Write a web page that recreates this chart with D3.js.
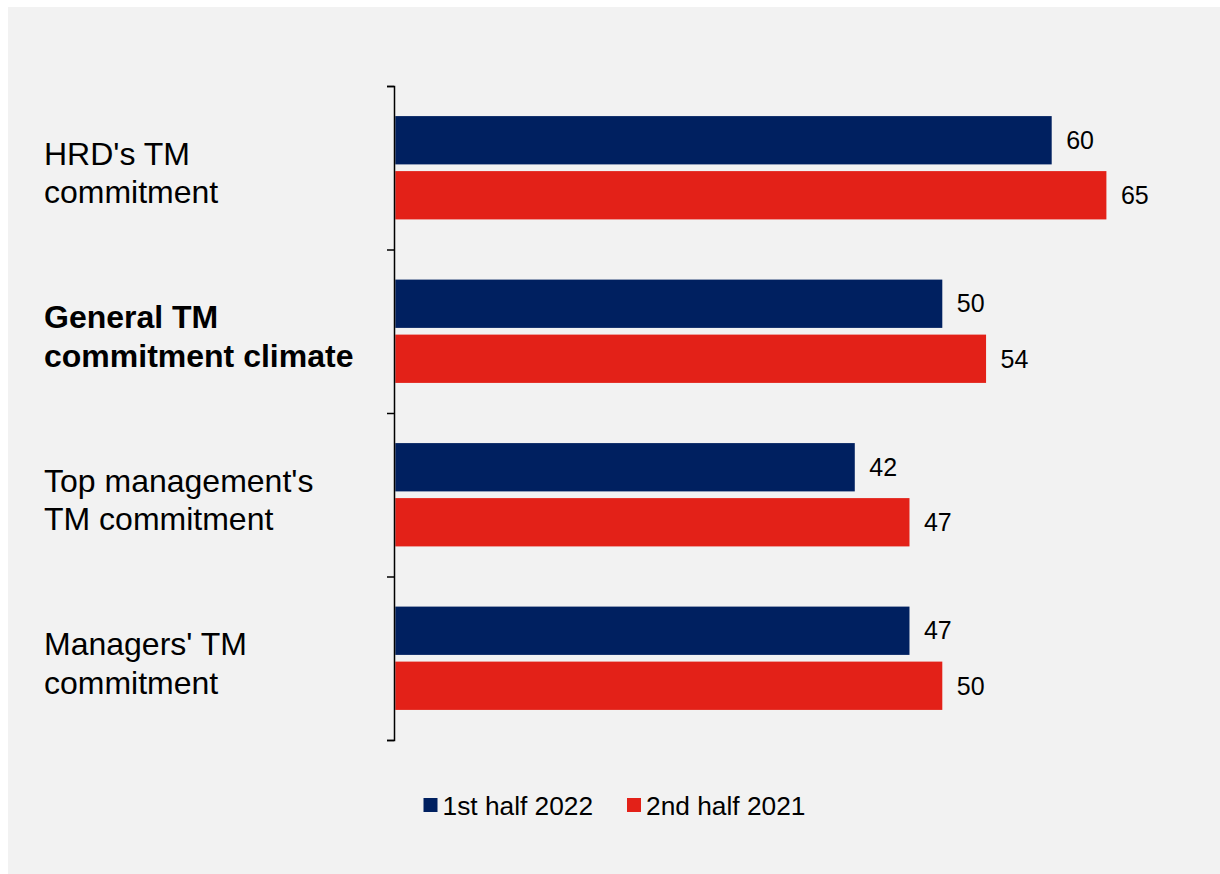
<!DOCTYPE html>
<html>
<head>
<meta charset="utf-8">
<script src="https://cdn.jsdelivr.net/npm/d3@7/dist/d3.min.js"></script>
<style>
  html, body { margin: 0; padding: 0; background: #ffffff; }
  svg { display: block; }
  text { font-family: "Liberation Sans", Arial, sans-serif; fill: #000; }
</style>
</head>
<body>
<svg id="chart" width="1220" height="874"></svg>
<script>
// ---- data ----
const categories = [
  ["HRD's TM", "commitment"],
  ["General TM", "commitment climate"],
  ["Top management's", "TM commitment"],
  ["Managers' TM", "commitment"]
];
const boldCategory = [false, true, false, false];
const seriesNames = ["1st half 2022", "2nd half 2021"];
const values2022H1 = [60, 50, 42, 47];
const values2021H2 = [65, 54, 47, 50];
const seriesColors = ["#002060", "#E32118"];

// ---- layout ----
const svg = d3.select("#chart");
svg.append("rect").attr("x", 8).attr("y", 7).attr("width", 1212).attr("height", 867).attr("fill", "#F2F2F2");

const x0 = 395.3, yTop = 86, yBot = 740;
const x = d3.scaleLinear().domain([0, 70]).range([x0, x0 + 70 * 10.94]);
const catIdx = d3.range(categories.length);
const y0 = d3.scaleBand().domain(catIdx).range([yTop, yBot]).paddingInner(0).paddingOuter(0);
const y1 = d3.scaleBand().domain([0, 1]).range([0, y0.bandwidth()]).paddingInner(0.122).paddingOuter(0.547);

const seriesVals = [values2022H1, values2021H2];

const groups = svg.selectAll("g.cat").data(catIdx).join("g")
  .attr("class", "cat")
  .attr("transform", i => `translate(0,${y0(i)})`);

groups.each(function(i) {
  const g = d3.select(this);
  [0, 1].forEach(s => {
    const v = seriesVals[s][i];
    g.append("rect")
      .attr("x", x(0))
      .attr("y", y1(s))
      .attr("width", x(v) - x(0))
      .attr("height", y1.bandwidth())
      .attr("fill", seriesColors[s]);
    g.append("text")
      .attr("x", x(v) + 14.5)
      .attr("y", y1(s) + y1.bandwidth() / 2)
      .attr("dy", "0.35em")
      .attr("font-size", 25)
      .text(v);
  });
});

// axis (ticks at band boundaries, no labels)
const axis = d3.axisLeft(d3.scaleLinear().domain([yTop, yBot]).range([yTop, yBot]))
  .tickValues(d3.range(categories.length + 1).map(k => yTop + k * y0.step()))
  .tickSize(7).tickSizeOuter(7).tickFormat("");
const ag = svg.append("g").attr("transform", "translate(394,0)").call(axis);
ag.selectAll("path, line").attr("stroke", "#000").attr("stroke-width", 1.5);

// category labels
const labels = svg.selectAll("text.catlabel").data(catIdx).join("text")
  .attr("class", "catlabel")
  .attr("x", 44)
  .attr("y", i => y0(i) + y0.bandwidth() / 2 - 3)
  .attr("font-size", 32)
  .attr("font-weight", i => boldCategory[i] ? "bold" : "normal");
labels.each(function(i) {
  const t = d3.select(this);
  categories[i].forEach((line, k) => {
    t.append("tspan").attr("x", 44).attr("dy", k === 0 ? 0 : 38.5).text(line);
  });
});

// legend
const legendX = [423.5, 627];
const lg = svg.selectAll("g.legend").data(seriesNames).join("g")
  .attr("class", "legend")
  .attr("transform", (d, i) => `translate(${legendX[i]},798)`);
lg.append("rect").attr("width", 14).attr("height", 14).attr("fill", (d, i) => seriesColors[i]);
lg.append("text").attr("x", 19).attr("y", 16.5).attr("font-size", 26.3).text(d => d);
</script>
</body>
</html>
